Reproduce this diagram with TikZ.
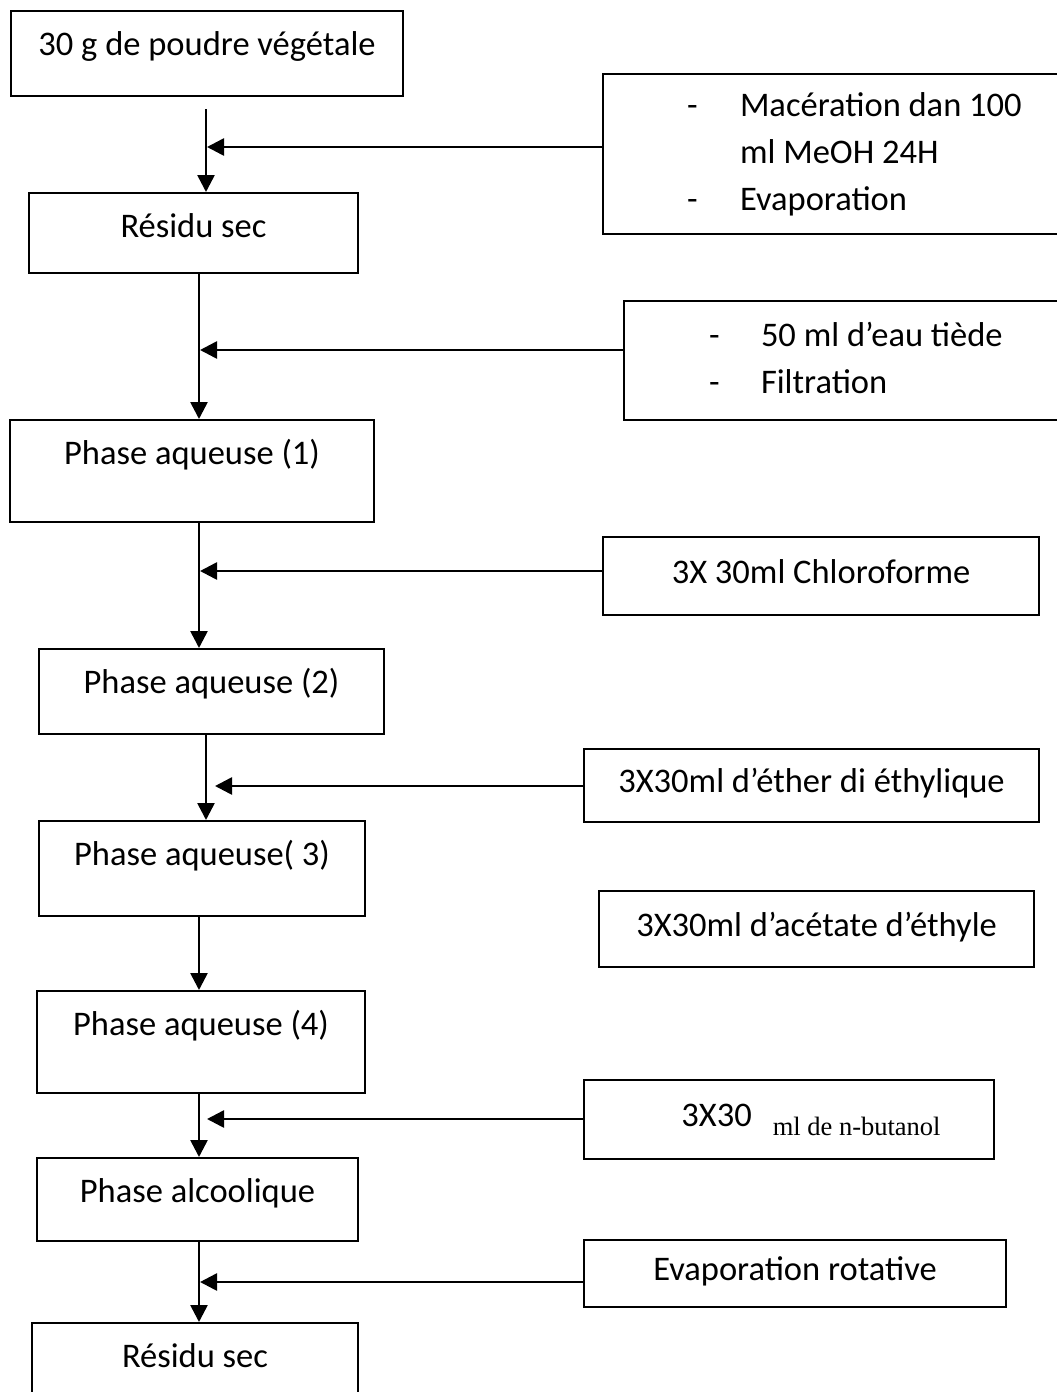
\documentclass[tikz,border=0pt]{standalone}
\usepackage{fontspec}
\setmainfont{Carlito}
\newfontfamily\serifface{Liberation Serif}
\usetikzlibrary{arrows.meta, positioning}
\tikzset{
    phasebox/.style={draw, line width=2pt, anchor=north west, inner sep=0pt, text height=44pt},
    reagbox/.style={draw, line width=2pt, anchor=north west, inner sep=0pt, text height=22pt, text depth=8pt},
    listbox/.style={draw, line width=2pt, anchor=north west, inner ysep=0pt, align=flush left, text width=420pt},
    flow/.style={line width=2.6pt, -{Triangle[length=17pt,width=17pt]}}
}

\begin{document}
\begin{tikzpicture}[x=1pt, y=-1pt, font=\fontsize{34.5pt}{47pt}\selectfont]
\useasboundingbox (0,0) rectangle (1057,1392);
% left column
\node[phasebox, minimum width=392pt, text depth=41pt] (poudre) at (10,10) {30 g de poudre végétale};
\node[phasebox, minimum width=329pt, text depth=36pt] (residu) at (28,192) {Résidu sec};
\node[phasebox, minimum width=364pt, text depth=58pt] (aq1) at (9,419) {Phase aqueuse (1)};
\node[phasebox, minimum width=345pt, text depth=41pt] (aq2) at (38,648) {Phase aqueuse (2)};
\node[phasebox, minimum width=326pt, text depth=51pt] (aq3) at (38,820) {Phase aqueuse( 3)};
\node[phasebox, minimum width=328pt, text depth=58pt] (aq4) at (36,990) {Phase aqueuse (4)};
\node[phasebox, minimum width=321pt, text depth=39pt] (alcool) at (36,1157) {Phase alcoolique};
\node[phasebox, minimum width=326pt, text depth=100pt] (residufin) at (31,1322) {Résidu sec};
% right column
\node[listbox, minimum height=160pt, inner xsep=84pt] (macer) at (602,73)
    {\makebox[53pt][l]{-}Macération dan 100\\\hspace*{53pt}ml MeOH 24H\\\makebox[53pt][l]{-}Evaporation};
\node[listbox, minimum height=119pt, inner xsep=85pt] (eau) at (623,300)
    {\makebox[52pt][l]{-}50 ml d’eau tiède\\\makebox[52pt][l]{-}Filtration\vphantom{p}};
\node[reagbox, minimum width=436pt, minimum height=78pt] (chloro) at (602,536) {3X 30ml Chloroforme};
\node[reagbox, minimum width=455pt, minimum height=73pt] (ether) at (583,748) {3X30ml d’éther di éthylique};
\node[reagbox, minimum width=435pt, minimum height=76pt] (acetate) at (598,890) {3X30ml d’acétate d’éthyle};
\node[reagbox, minimum width=410pt, minimum height=79pt] (butanol) at (583,1079)
    {\hspace*{44pt}3X30\hspace{21pt}\raisebox{-9pt}{\serifface\fontsize{26.5pt}{30pt}\selectfont ml de n-butanol}};
\node[reagbox, minimum width=422pt, minimum height=67pt] (evap) at (583,1239) {Evaporation rotative};

\coordinate (colA) at (206,0);
\coordinate (colB) at (199,0);
\coordinate (tipA) at (207,147);
\coordinate (tipB) at (200,350);
\coordinate (tipC) at (200,571);
\coordinate (tipD) at (215,786);
\coordinate (tipF) at (207,1119);
\coordinate (tipG) at (200,1282);

\path[flow]
(poudre.south -| colA) edge[shorten <=12pt] (residu.north -| colA)
(residu.south -| colB) edge (aq1.north -| colB)
(aq1.south -| colB) edge (aq2.north -| colB)
(aq2.south -| colA) edge (aq3.north -| colA)
(aq3.south -| colB) edge (aq4.north -| colB)
(aq4.south -| colB) edge (alcool.north -| colB)
(alcool.south -| colB) edge (residufin.north -| colB);
\path[flow]
(macer.west |- tipA) edge (tipA)
(eau.west |- tipB) edge (tipB)
(chloro.west |- tipC) edge (tipC)
(ether.west |- tipD) edge (tipD)
(butanol.west |- tipF) edge (tipF)
(evap.west |- tipG) edge (tipG);
\end{tikzpicture}
\end{document}
